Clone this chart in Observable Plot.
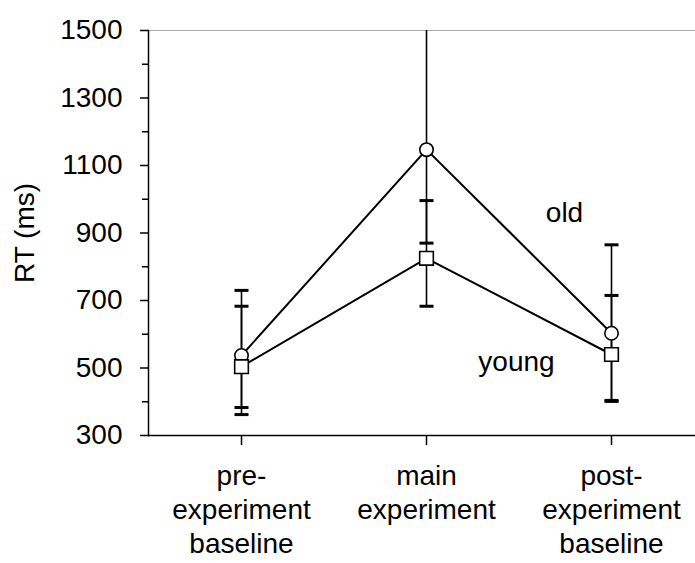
<!DOCTYPE html>
<html><head><meta charset="utf-8">
<script src="https://cdn.jsdelivr.net/npm/d3@7"></script>
<script src="https://cdn.jsdelivr.net/npm/@observablehq/plot@0.6"></script>
<style>body{margin:0;background:#fff}</style>
</head><body><div id="chart"></div><script>
const conditions = ["pre-experiment baseline", "main experiment", "post-experiment baseline"];
const tickLabels = ["pre-\nexperiment\nbaseline", "main\nexperiment", "post-\nexperiment\nbaseline"];
const seriesNames = ["old", "young"];
const oldMean = [537, 1147, 603];
const oldUpper = [730, 1510, 865];
const oldLower = [383, 870, 404];
const youngMean = [504, 825, 540];
const youngUpper = [683, 996, 715];
const youngLower = [362, 683, 401];
const yTicks = [300, 500, 700, 900, 1100, 1300, 1500];
const yMinorTicks = [400, 600, 800, 1000, 1200, 1400];

const oldRows = conditions.map((c, i) => ({condition: c, series: "old", mean: oldMean[i], lower: oldLower[i], upper: oldUpper[i]}));
const youngRows = conditions.map((c, i) => ({condition: c, series: "young", mean: youngMean[i], lower: youngLower[i], upper: youngUpper[i]}));
const rows = oldRows.concat(youngRows);

const capSymbol = {
  draw(context, size) {
    const w = Math.sqrt(size / Math.PI);
    context.moveTo(-w, 0);
    context.lineTo(w, 0);
  }
};

const font = "'Liberation Sans', Arial, Helvetica, sans-serif";

const chart = Plot.plot({
  width: 695,
  height: 563,
  marginLeft: 148,
  marginRight: 0,
  marginTop: 30,
  marginBottom: 128,
  style: {fontFamily: font, fontSize: "28px", color: "black", background: "white"},
  x: {type: "point", domain: conditions, range: [148, 703], padding: 0.5},
  y: {domain: [300, 1500]},
  marks: [
    Plot.ruleY([1500], {stroke: "#aaa", strokeWidth: 1}),
    Plot.axisY({ticks: yMinorTicks, tickSize: 6, tickFormat: () => "", label: null, strokeWidth: 1.5}),
    Plot.axisY({ticks: yTicks, tickSize: 8, tickPadding: 18, fontSize: 28, strokeWidth: 1.5,
      tickFormat: d => String(d),
      label: "RT (ms)", labelAnchor: "center", labelArrow: "none", labelOffset: 134}),
    Plot.axisX({tickSize: 10, tickPadding: 16, fontSize: 28, lineHeight: 1.2, strokeWidth: 1.5,
      tickFormat: d => tickLabels[conditions.indexOf(d)], label: null}),
    Plot.frame({anchor: "left", strokeWidth: 1.5}),
    Plot.ruleY([300], {strokeWidth: 1.5}),
    Plot.ruleX(rows, {x: "condition", y1: "lower", y2: "upper", stroke: "black", strokeWidth: 1.6, clip: true}),
    Plot.dot(rows, {x: "condition", y: "upper", symbol: capSymbol, r: 7, stroke: "black", strokeWidth: 3, clip: true}),
    Plot.dot(rows, {x: "condition", y: "lower", symbol: capSymbol, r: 7, stroke: "black", strokeWidth: 3, clip: true}),
    Plot.line(rows, {x: "condition", y: "mean", z: "series", stroke: "black", strokeWidth: 2}),
    Plot.dot(oldRows, {x: "condition", y: "mean", symbol: "circle", r: 6.7, fill: "white", stroke: "black", strokeWidth: 1.6}),
    Plot.dot(youngRows, {x: "condition", y: "mean", symbol: "square", r: 7.7, fill: "white", stroke: "black", strokeWidth: 1.6}),
    Plot.text([seriesNames[0]], {x: () => conditions[2], y: () => oldMean[2], text: d => d, dx: -47, dy: -111,
      lineAnchor: "bottom", textAnchor: "middle", fontSize: 28, fill: "black"}),
    Plot.text([seriesNames[1]], {x: () => conditions[2], y: () => youngMean[2], text: d => d, dx: -95, dy: 16,
      lineAnchor: "bottom", textAnchor: "middle", fontSize: 28, fill: "black"})
  ]
});
document.getElementById("chart").appendChild(chart);
</script></body></html>
